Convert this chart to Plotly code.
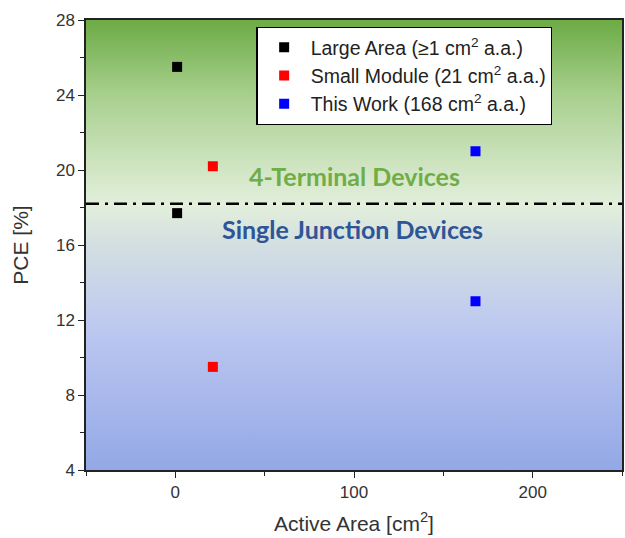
import plotly.graph_objects as go

# ---- data ----
series_names = [
    "Large Area (≥1 cm<sup>2</sup> a.a.)",
    "Small Module (21 cm<sup>2</sup> a.a.)",
    "This Work (168 cm<sup>2</sup> a.a.)",
]
series_colors = ["#000000", "#ff0000", "#0000ff"]
large_area_x = [1, 1]
large_area_y = [25.5, 17.7]
small_module_x = [21, 21]
small_module_y = [20.2, 9.5]
this_work_x = [168, 168]
this_work_y = [21.0, 13.0]

threshold_pce = 18.2
x_range = [-50, 250]
y_range = [4, 28]
x_tickvals = [0, 100, 200]
y_tickvals = [4, 8, 12, 16, 20, 24, 28]

font_main = "Liberation Sans, Arial, sans-serif"

fig = go.Figure()

# background gradient (green top -> blue bottom)
fig.add_trace(go.Scatter(
    x=[x_range[0], x_range[1], x_range[1], x_range[0], x_range[0]],
    y=[y_range[0], y_range[0], y_range[1], y_range[1], y_range[0]],
    mode="none", fill="toself", showlegend=False, hoverinfo="skip",
    fillgradient=dict(
        type="vertical", start=y_range[0], stop=y_range[1],
        colorscale=[
            [0.0, "#93a8e6"],
            [0.25, "#b4c1ee"],
            [0.33, "#bfcaf0"],
            [0.5, "#d3dfe1"],
            [0.59, "#e3efdb"],
            [0.67, "#d0e5c3"],
            [0.83, "#a9d08f"],
            [1.0, "#6cab45"],
        ],
    ),
))

for name, color, xs, ys in zip(
    series_names, series_colors,
    [large_area_x, small_module_x, this_work_x],
    [large_area_y, small_module_y, this_work_y],
):
    fig.add_trace(go.Scatter(
        x=xs, y=ys, mode="markers", name=name,
        marker=dict(symbol="square", size=10, color=color),
    ))

fig.add_shape(
    type="line", xref="paper", x0=0, x1=1, yref="y", y0=threshold_pce, y1=threshold_pce,
    line=dict(color="black", width=2.5, dash="13px,6px,3px,6px"),
)

fig.add_annotation(
    x=100, y=19.7, text="<b>4-Terminal Devices</b>", showarrow=False,
    font=dict(family="Lato, Open Sans, sans-serif", size=25, color="#70ad47"),
)
fig.add_annotation(
    x=99, y=16.85, text="<b>Single Junction Devices</b>", showarrow=False,
    font=dict(family="Lato, Open Sans, sans-serif", size=25, color="#2f5597"),
)

axis_common = dict(
    showgrid=False, zeroline=False, showline=True, linecolor="#222222", linewidth=1.5,
    mirror=True, ticks="outside", ticklen=6, tickcolor="#222222", tickwidth=1.2,
    tickfont=dict(family=font_main, size=17, color="#333333"),
)

fig.update_layout(
    width=625, height=538,
    margin=dict(l=86, r=1, t=20, b=68),
    paper_bgcolor="white", plot_bgcolor="white",
    xaxis=dict(
        range=x_range, tickvals=x_tickvals,
        minor=dict(dtick=50, tick0=0, ticks="outside", ticklen=4, tickcolor="#222222"),
        title=dict(text="Active Area [cm<sup>2</sup>]", font=dict(family=font_main, size=21, color="#333333"), standoff=15),
        **axis_common,
    ),
    yaxis=dict(
        range=y_range, tickvals=y_tickvals,
        minor=dict(dtick=2, tick0=0, ticks="outside", ticklen=4, tickcolor="#222222"),
        title=dict(text="PCE [%]", font=dict(family=font_main, size=21, color="#333333"), standoff=22),
        **axis_common,
    ),
    legend=dict(
        x=0.318, y=0.985, xanchor="left", yanchor="top",
        bgcolor="white", bordercolor="black", borderwidth=1.2,
        font=dict(family=font_main, size=19.5, color="#222222"),
        itemwidth=43,
    ),
)

fig.write_html(
    "out.html",
    config={"displayModeBar": False},
    post_script="document.body.style.margin='0';document.body.style.overflow='hidden';",
)
